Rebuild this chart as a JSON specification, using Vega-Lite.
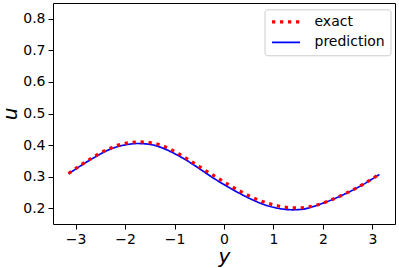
{
  "$schema": "https://vega.github.io/schema/vega-lite/v6.json",
  "width": 342,
  "height": 221,
  "autosize": {"type": "none"},
  "padding": {"left": 53, "top": 3, "right": 4, "bottom": 44},
  "background": "white",
  "config": {
    "view": {"stroke": "black", "strokeWidth": 1},
    "font": "DejaVu Sans",
    "axis": {
      "grid": false,
      "domain": false,
      "tickColor": "black",
      "tickSize": 5,
      "tickWidth": 1,
      "labelFont": "DejaVu Sans",
      "labelFontSize": 14,
      "labelColor": "black",
      "labelPadding": 3,
      "titleFont": "DejaVu Sans",
      "titleFontSize": 20,
      "titleFontStyle": "italic",
      "titleFontWeight": "normal",
      "titleColor": "black"
    }
  },
  "data": {
    "values": [
      {"series": "prediction", "y": -3.1416, "u": 0.309},
      {"series": "prediction", "y": -2.9, "u": 0.334},
      {"series": "prediction", "y": -2.65, "u": 0.358},
      {"series": "prediction", "y": -2.4, "u": 0.380},
      {"series": "prediction", "y": -2.15, "u": 0.395},
      {"series": "prediction", "y": -1.9, "u": 0.403},
      {"series": "prediction", "y": -1.75, "u": 0.405},
      {"series": "prediction", "y": -1.6, "u": 0.404},
      {"series": "prediction", "y": -1.4, "u": 0.399},
      {"series": "prediction", "y": -1.2, "u": 0.388},
      {"series": "prediction", "y": -1.0, "u": 0.373},
      {"series": "prediction", "y": -0.8, "u": 0.356},
      {"series": "prediction", "y": -0.6, "u": 0.336},
      {"series": "prediction", "y": -0.4, "u": 0.315},
      {"series": "prediction", "y": -0.2, "u": 0.294},
      {"series": "prediction", "y": 0.0, "u": 0.275},
      {"series": "prediction", "y": 0.2, "u": 0.257},
      {"series": "prediction", "y": 0.4, "u": 0.240},
      {"series": "prediction", "y": 0.6, "u": 0.225},
      {"series": "prediction", "y": 0.8, "u": 0.212},
      {"series": "prediction", "y": 1.0, "u": 0.203},
      {"series": "prediction", "y": 1.2, "u": 0.197},
      {"series": "prediction", "y": 1.4, "u": 0.195},
      {"series": "prediction", "y": 1.6, "u": 0.197},
      {"series": "prediction", "y": 1.8, "u": 0.205},
      {"series": "prediction", "y": 2.0, "u": 0.216},
      {"series": "prediction", "y": 2.2, "u": 0.228},
      {"series": "prediction", "y": 2.4, "u": 0.242},
      {"series": "prediction", "y": 2.6, "u": 0.257},
      {"series": "prediction", "y": 2.8, "u": 0.274},
      {"series": "prediction", "y": 3.0, "u": 0.293},
      {"series": "prediction", "y": 3.1416, "u": 0.307},
      {"series": "exact", "y": -3.1416, "u": 0.310},
      {"series": "exact", "y": -2.9, "u": 0.336},
      {"series": "exact", "y": -2.65, "u": 0.361},
      {"series": "exact", "y": -2.4, "u": 0.383},
      {"series": "exact", "y": -2.15, "u": 0.399},
      {"series": "exact", "y": -1.9, "u": 0.408},
      {"series": "exact", "y": -1.7, "u": 0.410},
      {"series": "exact", "y": -1.5, "u": 0.408},
      {"series": "exact", "y": -1.3, "u": 0.401},
      {"series": "exact", "y": -1.1, "u": 0.388},
      {"series": "exact", "y": -0.9, "u": 0.371},
      {"series": "exact", "y": -0.7, "u": 0.352},
      {"series": "exact", "y": -0.5, "u": 0.332},
      {"series": "exact", "y": -0.3, "u": 0.312},
      {"series": "exact", "y": -0.1, "u": 0.293},
      {"series": "exact", "y": 0.1, "u": 0.274},
      {"series": "exact", "y": 0.3, "u": 0.256},
      {"series": "exact", "y": 0.5, "u": 0.240},
      {"series": "exact", "y": 0.7, "u": 0.226},
      {"series": "exact", "y": 0.9, "u": 0.215},
      {"series": "exact", "y": 1.1, "u": 0.207},
      {"series": "exact", "y": 1.3, "u": 0.202},
      {"series": "exact", "y": 1.5, "u": 0.201},
      {"series": "exact", "y": 1.7, "u": 0.204},
      {"series": "exact", "y": 1.9, "u": 0.211},
      {"series": "exact", "y": 2.1, "u": 0.222},
      {"series": "exact", "y": 2.3, "u": 0.235},
      {"series": "exact", "y": 2.5, "u": 0.250},
      {"series": "exact", "y": 2.7, "u": 0.266},
      {"series": "exact", "y": 2.9, "u": 0.284},
      {"series": "exact", "y": 3.1416, "u": 0.308}
    ]
  },
  "mark": {"type": "line", "interpolate": "monotone", "strokeCap": "butt"},
  "encoding": {
    "x": {
      "field": "y",
      "type": "quantitative",
      "scale": {"domain": [-3.456, 3.456], "nice": false, "zero": false},
      "axis": {
        "values": [-3, -2, -1, 0, 1, 2, 3],
        "title": "y",
        "labelExpr": "replace(datum.label, '-', '−')",
        "labelFlush": false,
        "labelFont": "DejaVu Sans",
        "labelFontSize": 14,
        "labelPadding": 3,
        "titleFontSize": 20,
        "titleY": 38,
        "titleBaseline": "alphabetic"
      }
    },
    "y": {
      "field": "u",
      "type": "quantitative",
      "scale": {"domain": [0.15, 0.85], "nice": false, "zero": false},
      "axis": {
        "values": [0.2, 0.3, 0.4, 0.5, 0.6, 0.7, 0.8],
        "format": ".1f",
        "title": "u",
        "labelFlush": false,
        "labelFont": "DejaVu Sans",
        "labelFontSize": 14,
        "labelPadding": 3,
        "titleFontSize": 20,
        "titleX": -37,
        "titleY": 110.5,
        "titleAngle": -90,
        "titleBaseline": "alphabetic"
      }
    },
    "color": {
      "field": "series",
      "type": "nominal",
      "scale": {"domain": ["exact", "prediction"], "range": ["#ff0000", "#0000ff"]},
      "legend": {
        "title": null,
        "orient": "none",
        "legendX": 211.5,
        "legendY": 6.3,
        "direction": "vertical",
        "symbolType": "stroke",
        "symbolSize": 784,
        "clipHeight": 14,
        "labelFont": "DejaVu Sans",
        "labelFontSize": 14,
        "labelColor": "black",
        "labelOffset": 12.5,
        "padding": 5.5,
        "rowPadding": 6.6,
        "cornerRadius": 3,
        "strokeColor": "#cccccc",
        "fillColor": "rgba(255,255,255,0.8)"
      }
    },
    "strokeDash": {
      "field": "series",
      "type": "nominal",
      "scale": {"domain": ["exact", "prediction"], "range": [[3.3, 4.7], [1, 0]]}
    },
    "strokeWidth": {
      "field": "series",
      "type": "nominal",
      "scale": {"domain": ["exact", "prediction"], "range": [3.2, 1.7]}
    }
  }
}
